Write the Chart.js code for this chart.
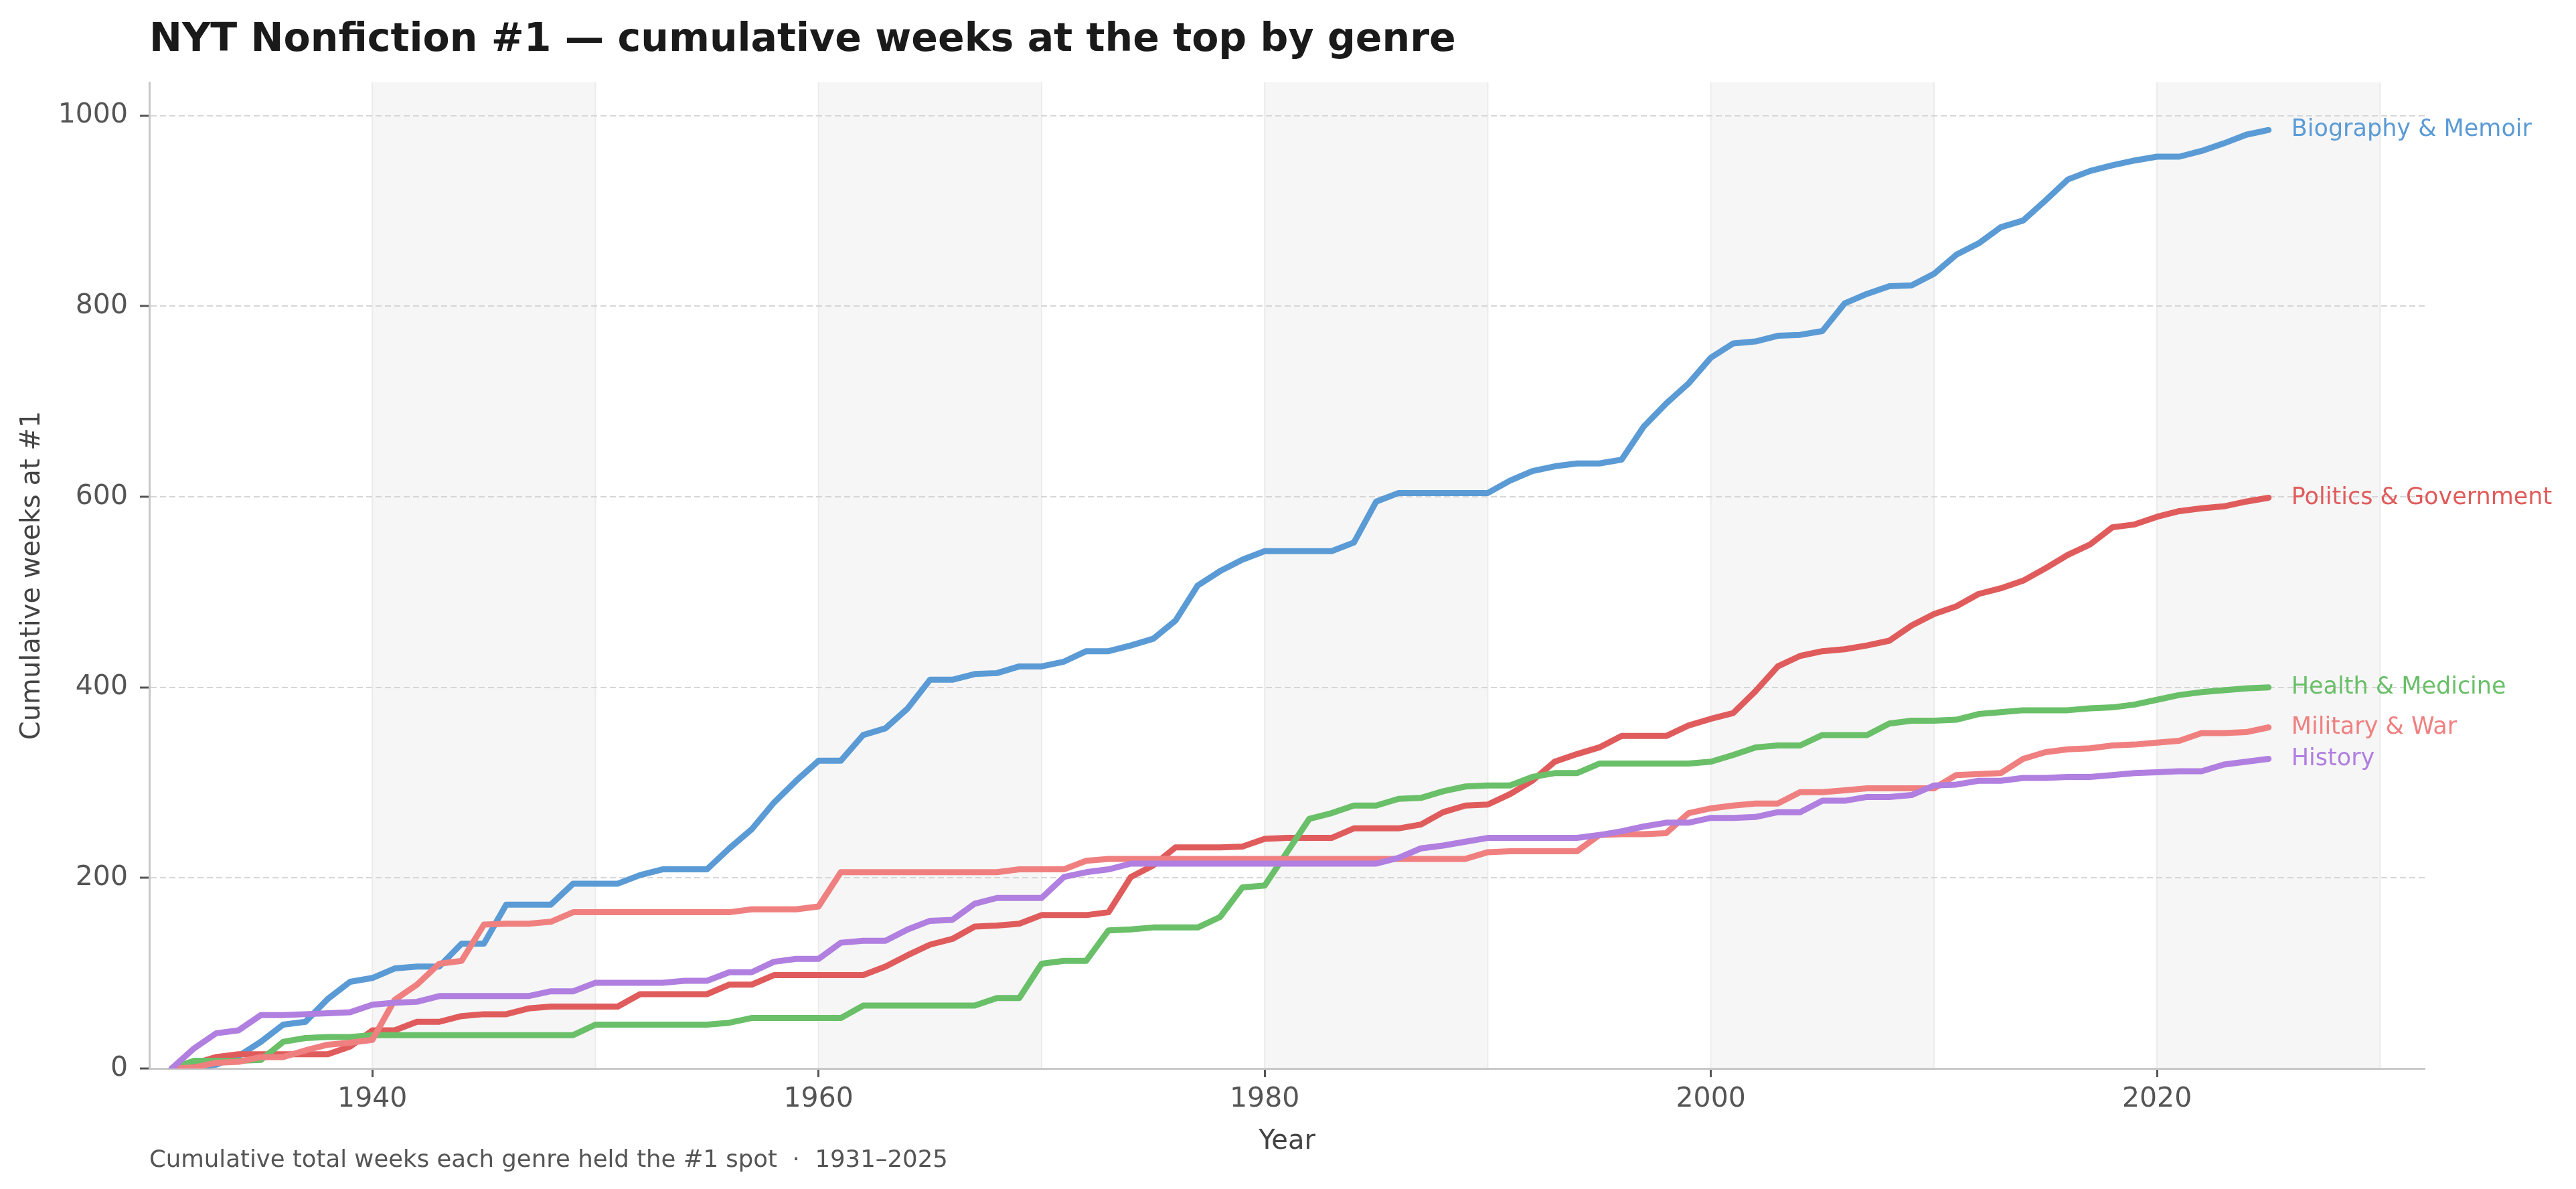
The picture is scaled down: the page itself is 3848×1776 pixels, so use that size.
<!DOCTYPE html>
<html>
<head>
<meta charset="utf-8">
<title>NYT Nonfiction #1 by genre</title>
<script src="https://cdn.jsdelivr.net/npm/chart.js@4.4.1/dist/chart.umd.min.js"></script>
<style>
    html, body { margin: 0; padding: 0; background: #fff; }
    #wrap { width: 3848px; height: 1776px; }
</style>
</head>
<body>
<div id="wrap"><canvas id="genreChart" width="3848" height="1776"></canvas></div>
<script>
const firstYear = 1931;
const lastYear = 2025;

const genres = ['Biography & Memoir', 'Politics & Government', 'Health & Medicine', 'Military & War', 'History'];

const biography = [
    0, 1, 4, 13, 28, 46, 49, 73, 91, 95,
    105, 107, 107, 131, 131, 172, 172, 172, 194, 194,
    194, 203, 209, 209, 209, 231, 251, 279, 302, 323,
    323, 350, 357, 378, 408, 408, 414, 415, 422, 422,
    427, 438, 438, 444, 451, 470, 507, 522, 534, 543,
    543, 543, 543, 552, 595, 604, 604, 604, 604, 604,
    617, 627, 632, 635, 635, 639, 674, 698, 719, 746,
    761, 763, 769, 770, 774, 803, 813, 821, 822, 834,
    854, 866, 883, 890, 911, 933, 942, 948, 953, 957,
    957, 963, 971, 980, 985
];
const politics = [
    0, 5, 12, 15, 15, 15, 15, 15, 23, 40,
    40, 49, 49, 55, 57, 57, 63, 65, 65, 65,
    65, 78, 78, 78, 78, 88, 88, 98, 98, 98,
    98, 98, 107, 119, 130, 136, 149, 150, 152, 161,
    161, 161, 164, 201, 213, 232, 232, 232, 233, 241,
    242, 242, 242, 252, 252, 252, 256, 269, 276, 277,
    288, 302, 322, 330, 337, 349, 349, 349, 360, 367,
    373, 396, 422, 433, 438, 440, 444, 449, 465, 477,
    485, 498, 504, 512, 525, 539, 550, 568, 571, 579,
    585, 588, 590, 595, 599
];
const health = [
    0, 8, 8, 8, 9, 28, 32, 33, 33, 35,
    35, 35, 35, 35, 35, 35, 35, 35, 35, 46,
    46, 46, 46, 46, 46, 48, 53, 53, 53, 53,
    53, 66, 66, 66, 66, 66, 66, 74, 74, 110,
    113, 113, 145, 146, 148, 148, 148, 159, 190, 192,
    227, 262, 268, 276, 276, 283, 284, 291, 296, 297,
    297, 306, 310, 310, 320, 320, 320, 320, 320, 322,
    329, 337, 339, 339, 350, 350, 350, 362, 365, 365,
    366, 372, 374, 376, 376, 376, 378, 379, 382, 387,
    392, 395, 397, 399, 400
];
const military = [
    0, 1, 6, 7, 12, 12, 19, 25, 27, 30,
    72, 88, 110, 113, 151, 152, 152, 154, 164, 164,
    164, 164, 164, 164, 164, 164, 167, 167, 167, 170,
    206, 206, 206, 206, 206, 206, 206, 206, 209, 209,
    209, 218, 220, 220, 220, 220, 220, 220, 220, 220,
    220, 220, 220, 220, 220, 220, 220, 220, 220, 227,
    228, 228, 228, 228, 245, 246, 246, 247, 268, 273,
    276, 278, 278, 290, 290, 292, 294, 294, 294, 294,
    308, 309, 310, 325, 332, 335, 336, 339, 340, 342,
    344, 352, 352, 353, 358
];
const history = [
    0, 21, 37, 40, 56, 56, 57, 58, 59, 67,
    69, 70, 76, 76, 76, 76, 76, 81, 81, 90,
    90, 90, 90, 92, 92, 101, 101, 112, 115, 115,
    132, 134, 134, 146, 155, 156, 173, 179, 179, 179,
    201, 206, 209, 215, 215, 215, 215, 215, 215, 215,
    215, 215, 215, 215, 215, 221, 231, 234, 238, 242,
    242, 242, 242, 242, 245, 249, 254, 258, 258, 263,
    263, 264, 269, 269, 281, 281, 285, 285, 287, 297,
    298, 302, 302, 305, 305, 306, 306, 308, 310, 311,
    312, 312, 319, 322, 325
];

const xTicks = [1940, 1960, 1980, 2000, 2020];
const yTicks = [0, 200, 400, 600, 800, 1000];
const shadedDecades = [[1940, 1950], [1960, 1970], [1980, 1990], [2000, 2010], [2020, 2030]];

const colors = ['#5B9BD5', '#E05C5C', '#6ABF69', '#F08080', '#B07FE0'];
const series = [biography, politics, health, military, history];

const years = [];
for (let y = firstYear; y <= lastYear; y++) years.push(y);

Chart.defaults.font.family = "'DejaVu Sans', sans-serif";

// grey bands behind every other decade
const decadeBands = {
    id: 'decadeBands',
    beforeDraw(chart) {
        const {ctx, chartArea, scales} = chart;
        ctx.save();
        shadedDecades.forEach(function(d) {
            const x1 = scales.x.getPixelForValue(d[0]);
            const x2 = scales.x.getPixelForValue(d[1]);
            ctx.fillStyle = '#f6f6f6';
            ctx.fillRect(x1, chartArea.top, x2 - x1, chartArea.bottom - chartArea.top);
            ctx.strokeStyle = '#ebebeb';
            ctx.lineWidth = 2;
            ctx.beginPath();
            ctx.moveTo(x1, chartArea.top); ctx.lineTo(x1, chartArea.bottom);
            ctx.moveTo(x2, chartArea.top); ctx.lineTo(x2, chartArea.bottom);
            ctx.stroke();
        });
        ctx.restore();
    }
};

// genre names at the end of each line, plus title and footnote
const endLabels = {
    id: 'endLabels',
    afterDatasetsDraw(chart) {
        const ctx = chart.ctx;
        ctx.save();
        ctx.font = "35px 'DejaVu Sans'";
        ctx.textBaseline = 'middle';
        ctx.textAlign = 'left';
        chart.data.datasets.forEach(function(ds, i) {
            const pts = chart.getDatasetMeta(i).data;
            const last = pts[pts.length - 1];
            ctx.fillStyle = ds.borderColor;
            ctx.fillText(ds.label, last.x + 34, last.y);
        });

        ctx.fillStyle = '#1a1a1a';
        ctx.font = "bold 58.5px 'DejaVu Sans'";
        ctx.textBaseline = 'alphabetic';
        ctx.fillText('NYT Nonfiction #1 \u2014 cumulative weeks at the top by genre', chart.chartArea.left, 76);

        ctx.fillStyle = '#555555';
        ctx.font = "35.5px 'DejaVu Sans'";
        ctx.fillText('Cumulative total weeks each genre held the #1 spot  \u00b7  1931\u20132025', chart.chartArea.left, 1743);
        ctx.restore();
    }
};

const ctx = document.getElementById('genreChart').getContext('2d');
new Chart(ctx, {
    type: 'line',
    data: {
        datasets: series.map(function(vals, i) {
            return {
                label: genres[i],
                data: years.map(function(yr, j) { return {x: yr, y: vals[j]}; }),
                borderColor: colors[i],
                backgroundColor: colors[i],
                borderWidth: 9,
                borderCapStyle: 'round',
                borderJoinStyle: 'round',
                pointRadius: 0,
                tension: 0,
                fill: false,
                order: 5 - i
            };
        })
    },
    options: {
        responsive: false,
        devicePixelRatio: 1,
        animation: false,
        layout: { padding: { top: 123, right: 226, bottom: 46, left: 0 } },
        plugins: {
            legend: { display: false },
            tooltip: { enabled: false }
        },
        scales: {
            x: {
                type: 'linear',
                min: 1930,
                max: 2032,
                afterBuildTicks: function(scale) { scale.ticks = xTicks.map(v => ({value: v})); },
                afterFit: function(scale) { scale.height = 134; },
                ticks: {
                    callback: v => String(v),
                    color: '#555555',
                    font: { size: 41 },
                    padding: 9,
                    maxRotation: 0
                },
                grid: {
                    drawOnChartArea: false,
                    drawTicks: true,
                    tickLength: 13,
                    tickWidth: 3,
                    tickColor: '#555555'
                },
                border: { color: '#c8c8c8', width: 3 },
                title: {
                    display: true,
                    text: 'Year',
                    color: '#444444',
                    font: { size: 40 },
                    padding: { top: 4, bottom: 0 }
                }
            },
            y: {
                min: 0,
                max: 1035,
                afterBuildTicks: function(scale) { scale.ticks = yTicks.map(v => ({value: v})); },
                afterFit: function(scale) { scale.width = 223; },
                ticks: {
                    callback: v => String(v),
                    color: '#555555',
                    font: { size: 41 },
                    padding: 18
                },
                grid: {
                    color: '#d6d6d6',
                    lineWidth: 2,
                    drawTicks: true,
                    tickLength: 14,
                    tickWidth: 3,
                    tickColor: '#555555'
                },
                border: { color: '#c8c8c8', width: 3, dash: [9, 5] },
                title: {
                    display: true,
                    text: 'Cumulative weeks at #1',
                    color: '#444444',
                    font: { size: 40 },
                    padding: { top: 25, bottom: 4 }
                }
            }
        }
    },
    plugins: [decadeBands, endLabels]
});
</script>
</body>
</html>
